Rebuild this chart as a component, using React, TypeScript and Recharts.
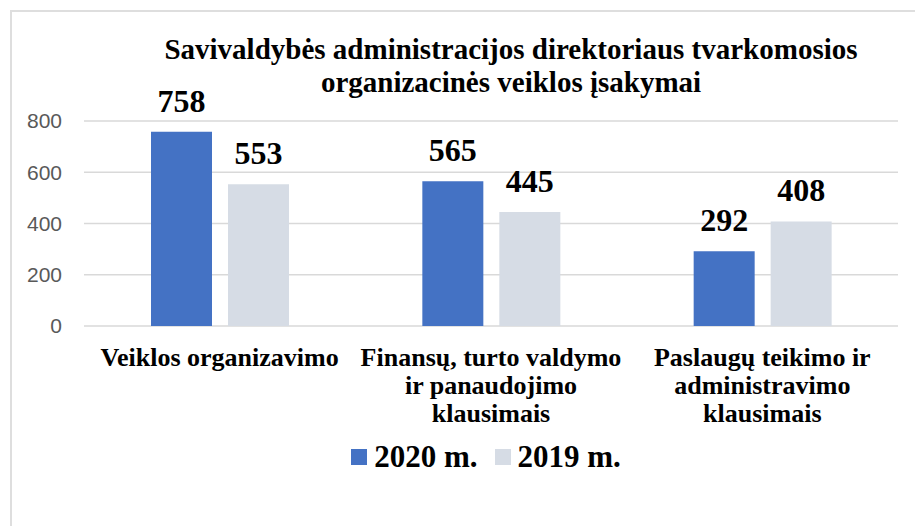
import React from 'react';
import { BarChart, Bar, XAxis, YAxis, CartesianGrid, Legend, LabelList } from 'recharts';

const categories = [
  'Veiklos organizavimo',
  'Finansų, turto valdymo ir panaudojimo klausimais',
  'Paslaugų teikimo ir administravimo klausimais',
];
// how each category label wraps in the picture
const categoryLines = [
  ['Veiklos organizavimo'],
  ['Finansų, turto valdymo', 'ir panaudojimo', 'klausimais'],
  ['Paslaugų teikimo ir', 'administravimo', 'klausimais'],
];
const seriesNames = ['2020 m.', '2019 m.'];
const values2020 = [758, 565, 292];
const values2019 = [553, 445, 408];
const yTicks = [0, 200, 400, 600, 800];

const data = categories.map((name, i) => ({
  name,
  y2020: values2020[i],
  y2019: values2019[i],
}));

const serif = '"Liberation Serif", "Times New Roman", serif';

const CategoryTick = ({ x, y, index }: any) => {
  const lines = categoryLines[index] || [];
  return (
    <text x={x} y={y} textAnchor="middle" fill="#000" style={{ fontFamily: serif, fontWeight: 'bold', fontSize: 26 }}>
      {lines.map((l, i) => (
        <tspan key={i} x={x} dy={i === 0 ? 32 : 28}>
          {l}
        </tspan>
      ))}
    </text>
  );
};

const LegendContent = ({ payload }: any) => {
  const items = seriesNames
    .map((n) => (payload || []).find((p: any) => p.value === n))
    .filter(Boolean);
  return (
    <div style={{ display: 'flex', justifyContent: 'center', alignItems: 'center', fontFamily: serif, fontWeight: 'bold', fontSize: 31, color: '#000' }}>
      {items.map((p: any, i: number) => (
        <div key={i} style={{ display: 'flex', alignItems: 'center', marginRight: i === 0 ? 17 : 0 }}>
          <span style={{ width: 16, height: 16, background: p.color, display: 'inline-block', marginRight: 7 }} />
          <span style={{ lineHeight: '34px' }}>{p.value}</span>
        </div>
      ))}
    </div>
  );
};

export default function App() {
  return (
    <div style={{ position: 'absolute', left: 0, top: 0, width: 915, height: 526, background: '#fff', overflow: 'hidden' }}>
      <div style={{ position: 'absolute', left: 10, top: 10, width: 940, height: 560, borderTop: '2px solid #dedede', borderLeft: '2px solid #dedede' }} />
      <div style={{ position: 'absolute', left: 0, top: 33, width: 1022, textAlign: 'center', fontFamily: serif, fontWeight: 'bold', fontSize: 29, lineHeight: '33px', color: '#000' }}>
        Savivaldybės administracijos direktoriaus tvarkomosios
        <br />
        organizacinės veiklos įsakymai
      </div>
      <div style={{ position: 'absolute', left: 0, top: 0 }}>
        <BarChart width={915} height={526} data={data} margin={{ top: 121, right: 17, bottom: 136, left: 0 }} barSize={61} barGap={16}>
          <CartesianGrid vertical={false} stroke="#d9d9d9" strokeWidth={1.5} />
          <XAxis dataKey="name" height={30} axisLine={false} tickLine={false} tick={<CategoryTick />} interval={0} />
          <YAxis
            width={84}
            domain={[0, 800]}
            ticks={yTicks}
            axisLine={false}
            tickLine={false}
            tickSize={0}
            tickMargin={22}
            tick={{ fill: '#595959', fontSize: 21, fontFamily: '"Liberation Sans", Arial, sans-serif' }}
          />
          <Legend content={<LegendContent />} wrapperStyle={{ position: 'absolute', top: 440, left: 79, width: 814, height: 34 }} />
          <Bar dataKey="y2020" name="2020 m." fill="#4472C4" isAnimationActive={false}>
            <LabelList dataKey="y2020" position="top" offset={20} fill="#000" fontFamily={serif} fontWeight="bold" fontSize={32} />
          </Bar>
          <Bar dataKey="y2019" name="2019 m." fill="#D6DCE5" isAnimationActive={false}>
            <LabelList dataKey="y2019" position="top" offset={20} fill="#000" fontFamily={serif} fontWeight="bold" fontSize={32} />
          </Bar>
        </BarChart>
      </div>
    </div>
  );
}
